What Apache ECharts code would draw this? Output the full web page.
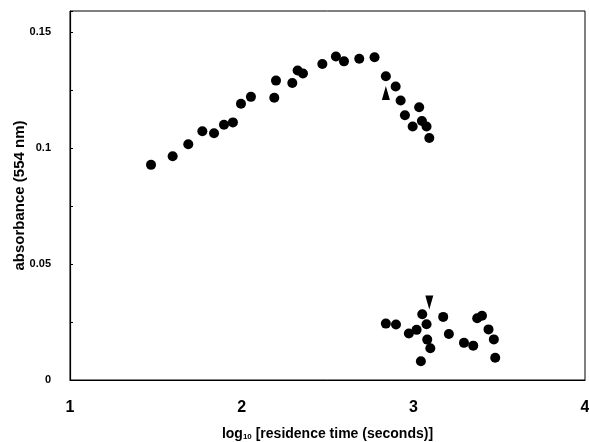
<!DOCTYPE html>
<html>
<head>
<meta charset="utf-8">
<script src="https://cdn.jsdelivr.net/npm/echarts@6/dist/echarts.min.js"></script>
<style>
  html, body { margin: 0; padding: 0; background: #fff; }
</style>
</head>
<body>
<div id="main" style="width: 589px; height: 442px;"></div>
<script>
// log10 residence time vs absorbance, upper branch
const upperX = [1.472, 1.598, 1.689, 1.771, 1.839, 1.897, 1.949, 1.996, 2.054, 2.190, 2.200, 2.295, 2.326, 2.357, 2.470, 2.549, 2.596, 2.685, 2.774, 2.840, 2.897, 2.926, 3.034, 2.951, 2.996, 3.050, 3.077, 3.093];
const upperY = [0.0927, 0.0964, 0.1016, 0.1072, 0.1063, 0.110, 0.111, 0.119, 0.122, 0.1216, 0.129, 0.128, 0.1334, 0.1321, 0.1362, 0.1394, 0.1373, 0.1384, 0.1391, 0.1309, 0.1265, 0.1204, 0.1175, 0.1141, 0.1092, 0.1116, 0.1092, 0.1043];
// lower branch
const lowerX = [2.840, 2.899, 2.974, 3.019, 3.052, 3.077, 3.081, 3.099, 3.044, 3.174, 3.207, 3.295, 3.349, 3.372, 3.400, 3.438, 3.469, 3.477];
const lowerY = [0.0243, 0.0239, 0.0200, 0.0216, 0.0283, 0.0240, 0.0174, 0.0137, 0.0081, 0.0272, 0.0198, 0.0160, 0.0148, 0.0266, 0.0277, 0.0218, 0.0175, 0.0096];
// arrow annotations [x, y]
const arrowUp = [2.840, 0.1237];
const arrowDown = [3.093, 0.0334];

const font = 'Liberation Sans, Arial, sans-serif';
const points = upperX.map((x, i) => [x, upperY[i]]).concat(lowerX.map((x, i) => [x, lowerY[i]]));

var myChart = echarts.init(document.getElementById('main'));
var option = {
  animation: false,
  grid: {
    left: 70, right: 4, top: 11, bottom: 62,
    outerBoundsMode: 'none',
    containLabel: false,
    show: true, borderColor: '#000', borderWidth: 1
  },
  xAxis: {
    type: 'value',
    min: 1, max: 4, interval: 1,
    axisLine: { lineStyle: { color: '#000', width: 1.2 } },
    axisTick: { show: false },
    splitLine: { show: false },
    axisLabel: { color: '#000', fontFamily: font, fontWeight: 'bold', fontSize: 16, margin: 20 },
    name: '{a|log}{s|10}{a| [residence time (seconds)]}',
    nameLocation: 'middle',
    nameGap: 47,
    nameMoveOverlap: false,
    nameTextStyle: {
      rich: {
        a: { fontFamily: font, fontWeight: 'bold', fontSize: 14, color: '#000' },
        s: { fontFamily: font, fontWeight: 'bold', fontSize: 8, color: '#000', verticalAlign: 'bottom', padding: [6, 0, 0, 0] }
      }
    }
  },
  yAxis: {
    type: 'value',
    min: 0, max: 0.159, interval: 0.05,
    axisLine: { lineStyle: { color: '#000', width: 1.2 } },
    axisTick: { show: true, inside: true, length: 3, lineStyle: { color: '#000' } },
    minorTick: { show: true, splitNumber: 2, length: 3, lineStyle: { color: '#000' } },
    splitLine: { show: false },
    axisLabel: {
      color: '#000', fontFamily: font, fontWeight: 'bold', fontSize: 11, margin: 19,
      formatter: v => (Math.abs(Math.round(v / 0.05) * 0.05 - v) < 1e-6 ? String(+v.toFixed(2)) : '')
    },
    name: 'absorbance (554 nm)',
    nameLocation: 'middle',
    nameGap: 43,
    nameMoveOverlap: false,
    nameTextStyle: { color: '#000', fontFamily: font, fontWeight: 'bold', fontSize: 15 }
  },
  series: [
    {
      type: 'scatter',
      data: points,
      symbol: 'circle',
      symbolSize: 10,
      itemStyle: { color: '#000', opacity: 1 },
      markPoint: {
        symbol: 'triangle',
        symbolSize: [8, 14],
        itemStyle: { color: '#000' },
        label: { show: false },
        data: [
          { coord: arrowUp },
          { coord: arrowDown, symbolRotate: 180 }
        ]
      }
    }
  ]
};
option && myChart.setOption(option);
</script>
</body>
</html>
